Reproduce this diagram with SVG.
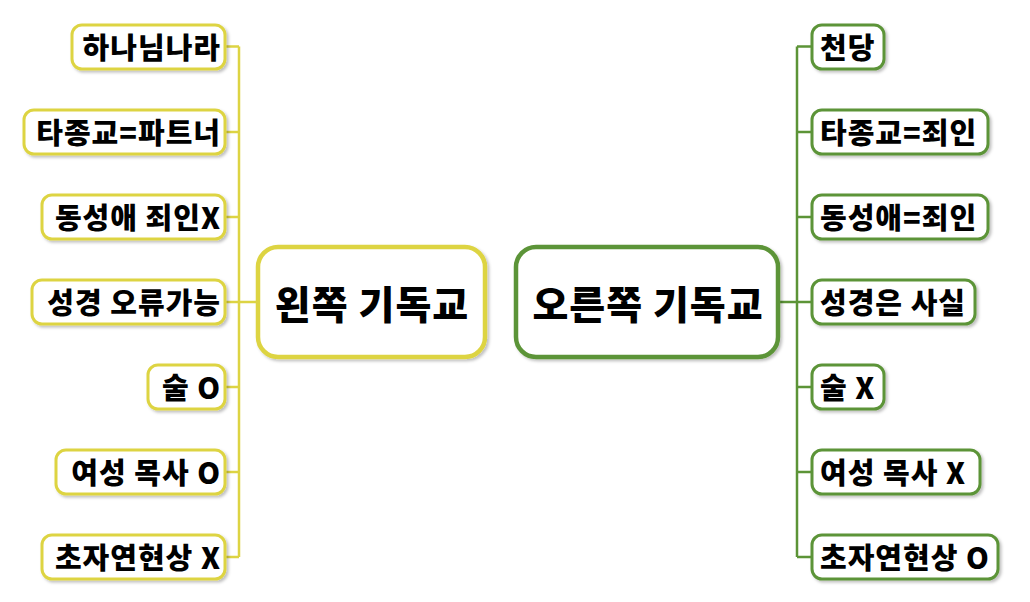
<svg xmlns="http://www.w3.org/2000/svg" width="1030" height="602" viewBox="0 0 1030 602">
<defs>
<filter id="sh" x="-10%" y="-20%" width="130%" height="150%">
<feDropShadow dx="2" dy="2" stdDeviation="1.5" flood-color="#000" flood-opacity="0.25"/>
</filter>
<style>
.t{font-family:"Noto Sans CJK KR","Noto Sans",sans-serif;font-weight:900;fill:#000;dominant-baseline:central}
.s{font-size:29px;letter-spacing:1px}
.c{font-size:39px;text-anchor:middle;letter-spacing:1px}
.l{text-anchor:end}
.r{text-anchor:start}
.ly{fill:#fff;stroke:#ddd443;stroke-width:3;filter:url(#sh)}
.ry{fill:#fff;stroke:#5c9437;stroke-width:3;filter:url(#sh)}
.cy{fill:#fff;stroke:#ddd443;stroke-width:4.5;filter:url(#sh)}
.cg{fill:#fff;stroke:#5c9437;stroke-width:4.5;filter:url(#sh)}
.ey{fill:none;stroke:#ddd443;stroke-width:2.5}
.eg{fill:none;stroke:#5c9437;stroke-width:2.5}
</style>
</defs>
<rect width="1030" height="602" fill="#fff"/>
<g id="connectors">
<path class="ey" d="M258 302H239M239 46.5V557M225 46.5H239M225 132H239M225 217H239M225 302H239M225 387H239M225 472H239M225 557H239"/>
<path class="eg" d="M778 302H797M797 46.5V557M797 46.5H812M797 132H812M797 217H812M797 302H812M797 387H812M797 472H812M797 557H812"/>
</g>
<g id="left-center"><rect class="cy" x="258" y="247" width="227" height="110" rx="20"/><text class="t c" x="372" y="302">왼쪽 기독교</text></g>
<g id="right-center"><rect class="cg" x="516" y="247" width="262" height="110" rx="20"/><text class="t c" x="648" y="302">오른쪽 기독교</text></g>
<g id="l1"><rect class="ly" x="72" y="25" width="153" height="44" rx="10"/><text class="t s l" x="221" y="46">하나님나라</text></g>
<g id="l2"><rect class="ly" x="24" y="110" width="201" height="44" rx="10"/><text class="t s l" x="221" y="131">타종교=파트너</text></g>
<g id="l3"><rect class="ly" x="42" y="195" width="183" height="44" rx="10"/><text class="t s l" x="221" y="216">동성애 죄인X</text></g>
<g id="l4"><rect class="ly" x="32" y="280" width="193" height="44" rx="10"/><text class="t s l" x="221" y="301">성경 오류가능</text></g>
<g id="l5"><rect class="ly" x="148" y="365" width="77" height="44" rx="10"/><text class="t s l" x="221" y="386">술 O</text></g>
<g id="l6"><rect class="ly" x="56" y="450" width="169" height="44" rx="10"/><text class="t s l" x="221" y="471">여성 목사 O</text></g>
<g id="l7"><rect class="ly" x="42" y="535" width="183" height="44" rx="10"/><text class="t s l" x="221" y="556">초자연현상 X</text></g>
<g id="r1"><rect class="ry" x="812" y="25" width="72" height="44" rx="10"/><text class="t s r" x="820" y="46">천당</text></g>
<g id="r2"><rect class="ry" x="812" y="110" width="176" height="44" rx="10"/><text class="t s r" x="820" y="131">타종교=죄인</text></g>
<g id="r3"><rect class="ry" x="812" y="195" width="176" height="44" rx="10"/><text class="t s r" x="820" y="216">동성애=죄인</text></g>
<g id="r4"><rect class="ry" x="812" y="280" width="163" height="44" rx="10"/><text class="t s r" x="820" y="301">성경은 사실</text></g>
<g id="r5"><rect class="ry" x="812" y="365" width="72" height="44" rx="10"/><text class="t s r" x="820" y="386">술 X</text></g>
<g id="r6"><rect class="ry" x="812" y="450" width="168" height="44" rx="10"/><text class="t s r" x="820" y="471">여성 목사 X</text></g>
<g id="r7"><rect class="ry" x="812" y="535" width="186" height="44" rx="10"/><text class="t s r" x="820" y="556">초자연현상 O</text></g>
</svg>
